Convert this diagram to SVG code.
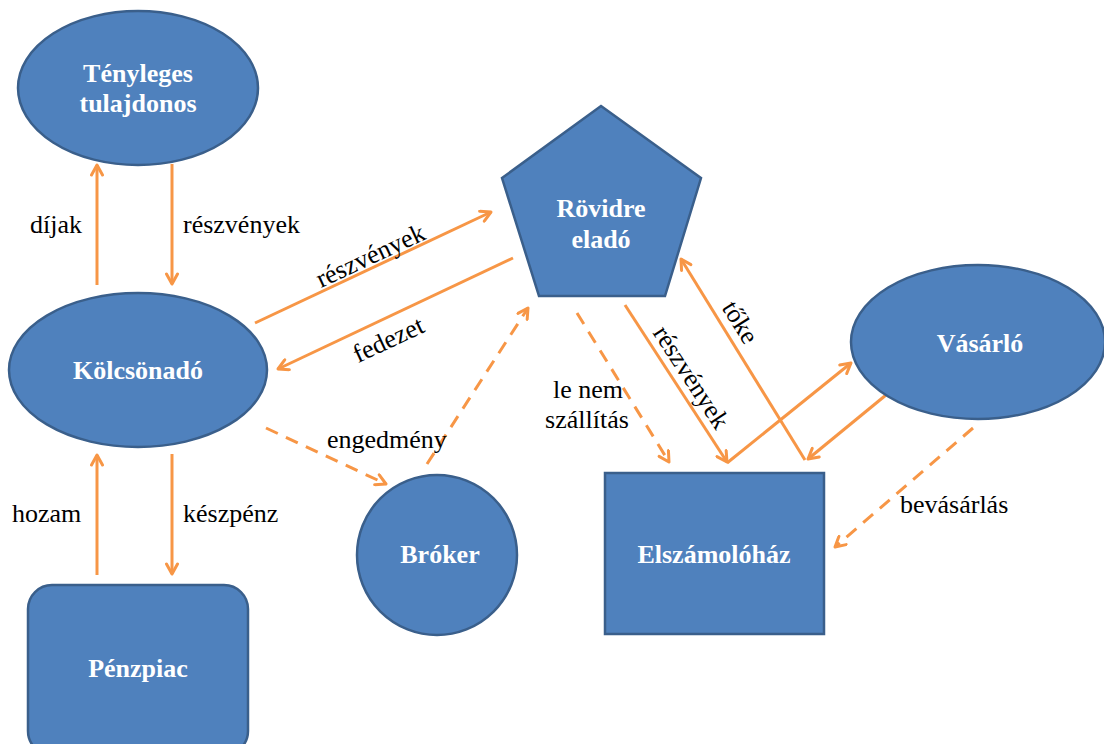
<svg xmlns="http://www.w3.org/2000/svg" width="1104" height="744" viewBox="0 0 1104 744">
<defs>
<style>
.node{fill:#4F81BD;stroke:#3A5F8B;stroke-width:2.5}
.nt{font-family:"Liberation Serif","Times New Roman",serif;font-weight:bold;font-size:26px;fill:#FFFFFF;text-anchor:middle}
.lbl{font-family:"Liberation Serif","Times New Roman",serif;font-size:26px;fill:#000000}
.c{stroke:#F79646;stroke-width:3;fill:none;marker-end:url(#ah)}
.d{stroke-dasharray:13 9}
</style>
<marker id="ah" viewBox="0 0 14 14" refX="12" refY="7" markerWidth="14" markerHeight="14" markerUnits="userSpaceOnUse" orient="auto">
<path d="M2,1.5 L12,7 L2,12.5" fill="none" stroke="#F79646" stroke-width="3" stroke-linecap="round" stroke-linejoin="round"/>
</marker>
</defs>
<rect width="1104" height="744" fill="#FFFFFF"/>

<g id="connectors">
<line class="c" x1="97" y1="285" x2="97" y2="165"/>
<line class="c" x1="172" y1="164" x2="172" y2="284"/>
<line class="c" x1="97" y1="575" x2="97" y2="455"/>
<line class="c" x1="172" y1="454" x2="172" y2="574"/>
<line class="c" x1="255" y1="323" x2="491" y2="212"/>
<line class="c" x1="513" y1="258" x2="278" y2="369"/>
<line class="c d" x1="266" y1="428" x2="386" y2="484"/>
<line class="c d" x1="427" y1="464" x2="528" y2="308"/>
<line class="c d" x1="577" y1="313" x2="669" y2="462"/>
<line class="c" x1="625" y1="305" x2="727" y2="462"/>
<line class="c" x1="805" y1="460" x2="681" y2="259"/>
<line class="c" x1="727" y1="463" x2="851" y2="363"/>
<line class="c" x1="886" y1="395" x2="808" y2="459"/>
<line class="c d" x1="973" y1="428" x2="835" y2="547"/>
<text class="lbl" x="30" y="233">díjak</text>
<text class="lbl" x="183" y="233">részvények</text>
<text class="lbl" x="12" y="522">hozam</text>
<text class="lbl" x="183" y="522">készpénz</text>
<text class="lbl" text-anchor="middle" transform="translate(371,257) rotate(-25)" x="0" y="7">részvények</text>
<text class="lbl" text-anchor="middle" transform="translate(389,341) rotate(-25)" x="0" y="7">fedezet</text>
<text class="lbl" x="327" y="448">engedmény</text>
<text class="lbl" text-anchor="middle" x="588" y="398">le nem</text>
<text class="lbl" text-anchor="middle" x="587" y="428">szállítás</text>
<text class="lbl" text-anchor="middle" transform="translate(690,378) rotate(57)" x="0" y="7">részvények</text>
<text class="lbl" text-anchor="middle" transform="translate(739,323) rotate(58)" x="0" y="7">tőke</text>
<text class="lbl" x="900" y="513">bevásárlás</text>
</g>

<g id="node-tenyleges">
<ellipse class="node" cx="138" cy="88" rx="120" ry="77"/>
<text class="nt" x="138" y="82">Tényleges</text>
<text class="nt" x="138" y="112">tulajdonos</text>
</g>
<g id="node-kolcsonado">
<ellipse class="node" cx="138" cy="370" rx="129" ry="77"/>
<text class="nt" x="138" y="379">Kölcsönadó</text>
</g>
<g id="node-penzpiac">
<rect class="node" x="28" y="585" width="220" height="170" rx="24" ry="24"/>
<text class="nt" x="138" y="677">Pénzpiac</text>
</g>
<g id="node-rovidre">
<polygon class="node" points="601,106 701,178 665,296 539,296 502,178"/>
<text class="nt" x="601" y="217">Rövidre</text>
<text class="nt" x="601" y="248">eladó</text>
</g>
<g id="node-broker">
<circle class="node" cx="437" cy="555" r="80"/>
<text class="nt" x="440" y="563">Bróker</text>
</g>
<g id="node-elszamolohaz">
<rect class="node" x="605" y="473" width="219" height="161"/>
<text class="nt" x="714" y="563">Elszámolóház</text>
</g>
<g id="node-vasarlo">
<ellipse class="node" cx="978" cy="342" rx="127" ry="77"/>
<text class="nt" x="980" y="352">Vásárló</text>
</g>
</svg>
